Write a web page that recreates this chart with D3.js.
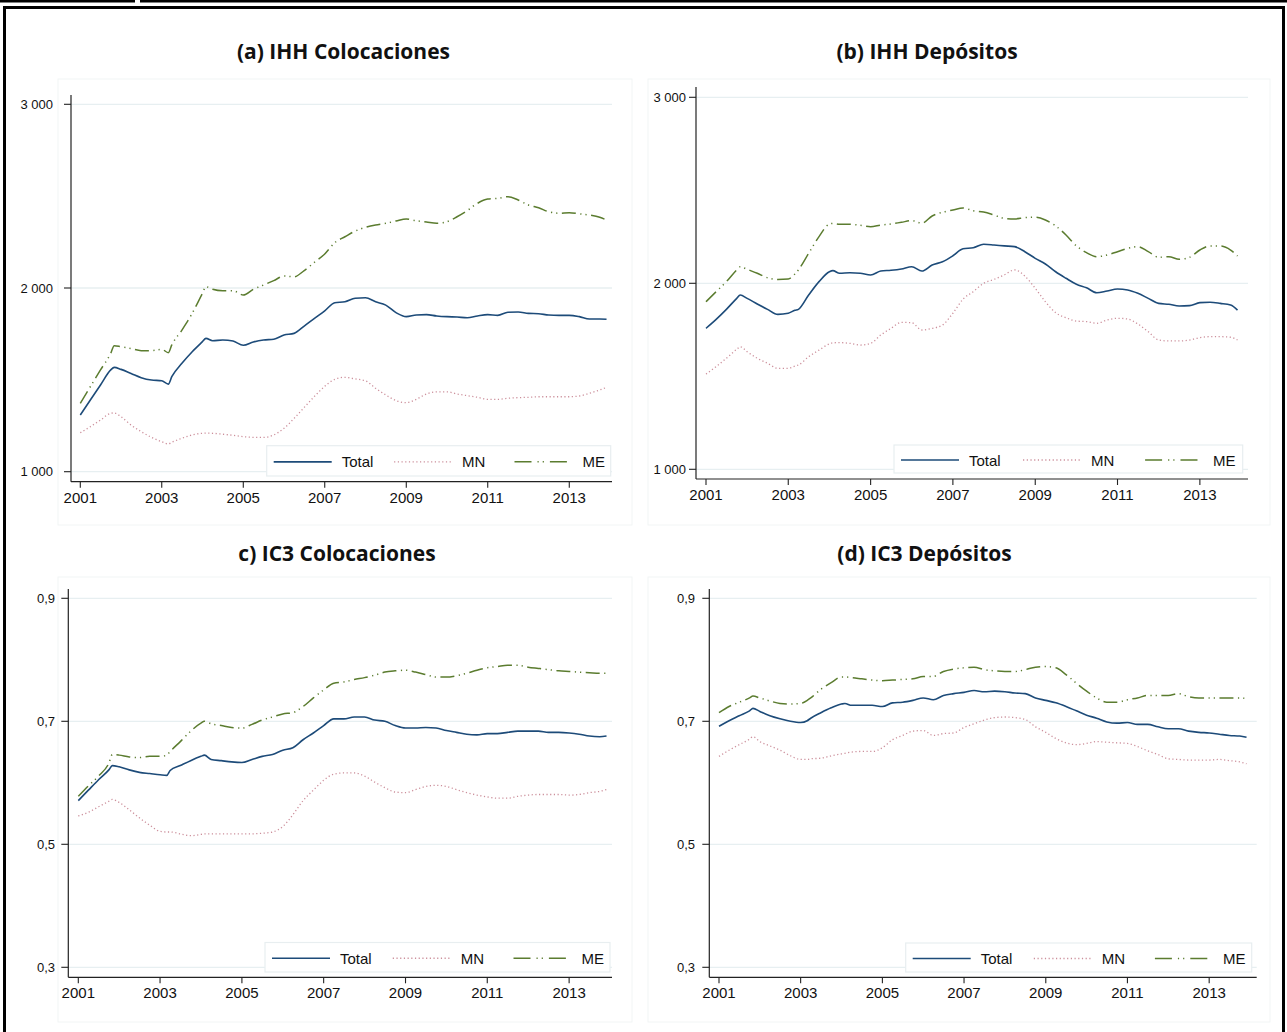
<!DOCTYPE html>
<html>
<head>
<meta charset="utf-8">
<script src="https://cdn.jsdelivr.net/npm/d3@7"></script>
<style>
  body { margin: 0; background: #fff; }
</style>
</head>
<body>
<div id="chart"></div>
<script>
// observation dates (month of year), shared by every series
const months = [
  "2001-01","2001-04","2001-07","2001-10","2001-11",
  "2002-01","2002-04","2002-07","2002-10",
  "2003-01","2003-03","2003-04","2003-07","2003-10",
  "2004-01","2004-02","2004-04","2004-07","2004-10",
  "2005-01","2005-04","2005-07","2005-10",
  "2006-01","2006-04","2006-07","2006-10",
  "2007-01","2007-04","2007-07","2007-10",
  "2008-01","2008-04","2008-07","2008-10",
  "2009-01","2009-04","2009-07","2009-10",
  "2010-01","2010-04","2010-07","2010-10",
  "2011-01","2011-04","2011-07","2011-10",
  "2012-01","2012-04","2012-07","2012-10",
  "2013-01","2013-04","2013-07","2013-10","2013-12"
];

// (a) IHH Colocaciones
const ihhColTotal = [1309,1390,1472,1554,1568, 1557,1535,1512,1499, 1495,1477,1517,1590,1653,
  1708,1726,1713,1717,1711, 1688,1706,1717,1721, 1744,1753,1793,1835, 1876,1920,1925,1944,
  1947,1925,1907,1866, 1844,1853,1855,1848, 1844,1842,1838,1848, 1855,1851,1868,1869,
  1862,1860,1853,1851, 1851,1844,1831,1831,1830];
const ihhColMN = [1212,1245,1281,1318,1320, 1299,1254,1218,1187, 1163,1151,1160,1182,1200,
  1209,1210,1209,1204,1198, 1191,1187,1187,1200, 1236,1290,1350,1410, 1465,1503,1514,1505,
  1495,1454,1418,1387, 1376,1394,1423,1435, 1435,1423,1414,1405, 1394,1394,1400,1403,
  1405,1408,1408,1408, 1408,1412,1427,1445,1459];
const ihhColME = [1372,1463,1554,1645,1686, 1680,1670,1659,1659, 1666,1648,1690,1771,1862,
  1971,2007,1993,1985,1985, 1962,1993,2016,2040, 2065,2061,2095,2140, 2185,2247,2279,2310,
  2330,2343,2352,2365, 2376,2366,2359,2352, 2361,2388,2421,2461, 2484,2488,2497,2479,
  2452,2437,2415,2407, 2410,2404,2397,2385,2370];

// (b) IHH Depósitos
const ihhDepTotal = [1758,1806,1860,1919,1937, 1919,1889,1860,1833, 1839,1855,1860,1937,2009,
  2062,2068,2054,2057,2054, 2045,2066,2070,2077, 2089,2066,2098,2116, 2148,2186,2191,2210,
  2206,2201,2197,2170, 2134,2104,2062,2027, 1995,1976,1949,1959, 1969,1964,1946,1919,
  1892,1887,1878,1880, 1896,1898,1892,1883,1856];
const ihhDepMN = [1512,1552,1597,1645,1659, 1632,1597,1570,1543, 1543,1555,1561,1605,1641,
  1674,1680,1681,1677,1668, 1677,1722,1758,1790, 1788,1749,1758,1776, 1839,1915,1955,2000,
  2021,2045,2072,2039, 1973,1901,1842,1815, 1797,1794,1785,1803, 1812,1808,1781,1740,
  1695,1690,1690,1695, 1708,1713,1713,1710,1695];
const ihhDepME = [1901,1955,2009,2072,2089, 2075,2054,2030,2021, 2023,2050,2072,2161,2251,
  2319,2322,2317,2317,2312, 2304,2313,2319,2328, 2337,2323,2362,2382, 2394,2405,2390,2383,
  2367,2349,2346,2353, 2355,2340,2308,2260, 2201,2165,2143,2152, 2170,2188,2197,2170,
  2140,2143,2129,2140, 2179,2201,2201,2179,2147];

// c) IC3 Colocaciones
const ic3ColTotal = [.571,.588,.605,.621,.628, .626,.621,.617,.615, .613,.612,.620,.628,.636,
  .643,.645,.638,.636,.634, .633,.638,.643,.646, .653,.657,.670,.681, .693,.704,.704,.707,
  .707,.702,.700,.693, .689,.689,.690,.689, .685,.682,.679,.678, .680,.680,.682,.684,
  .684,.684,.682,.682, .681,.679,.676,.675,.676];
const ic3ColMN = [.546,.552,.561,.570,.573, .568,.556,.543,.531, .521,.520,.520,.517,.514,
  .516,.517,.517,.517,.517, .517,.517,.518,.520, .529,.548,.571,.588, .604,.614,.616,.616,
  .611,.601,.592,.585, .584,.589,.594,.596, .594,.589,.584,.580, .577,.575,.575,.578,
  .580,.581,.581,.581, .580,.581,.584,.586,.589];
const ic3ColME = [.578,.595,.611,.632,.646, .645,.642,.641,.643, .643,.645,.651,.667,.684,
  .697,.700,.696,.693,.690, .689,.695,.702,.707, .712,.714,.724,.738, .751,.762,.764,.768,
  .771,.775,.780,.782, .783,.780,.776,.772, .772,.774,.778,.783, .787,.789,.791,.791,
  .788,.786,.784,.782, .781,.780,.779,.778,.778];

// (d) IC3 Depósitos
const ic3DepTotal = [.692,.701,.709,.717,.721, .716,.709,.704,.700, .698,.701,.705,.714,.722,
  .728,.729,.726,.726,.726, .724,.730,.731,.734, .738,.735,.742,.745, .747,.750,.748,.749,
  .748,.746,.745,.738, .734,.730,.724,.717, .710,.705,.699,.697, .698,.695,.695,.691,
  .688,.688,.684,.682, .681,.679,.677,.676,.674];
const ic3DepMN = [.643,.653,.662,.671,.675, .667,.660,.653,.644, .638,.638,.639,.640,.644,
  .647,.648,.650,.651,.651, .657,.670,.677,.684, .685,.677,.680,.681, .690,.696,.702,.706,
  .707,.706,.703,.691, .682,.672,.665,.662, .664,.667,.666,.665, .664,.659,.652,.646,
  .639,.638,.637,.637, .637,.638,.636,.634,.631];
const ic3DepME = [.714,.724,.731,.738,.741, .738,.733,.729,.728, .729,.734,.738,.752,.763,
  .772,.772,.771,.769,.767, .766,.767,.768,.769, .773,.773,.781,.785, .787,.788,.784,.782,
  .781,.781,.784,.788, .789,.787,.776,.762, .749,.738,.731,.731, .735,.738,.742,.742,
  .742,.745,.740,.738, .738,.738,.738,.738,.737];

const xTickYears = [2001, 2003, 2005, 2007, 2009, 2011, 2013];
const ihhTicks = [1000, 2000, 3000];
const ic3Ticks = [0.3, 0.5, 0.7, 0.9];
const seriesNames = ["Total", "MN", "ME"];

const width = 1287, height = 1032;
const svg = d3.select("#chart").append("svg")
  .attr("width", width)
  .attr("height", height);

const loc = d3.formatLocale({decimal: ",", thousands: " ", grouping: [3], currency: ["", ""]});
const parseMonth = d3.timeParse("%Y-%m");
const dates = months.map(parseMonth);

const styles = {
  Total: {color: "#1d4b79", dash: null, w: 1.6},
  MN:    {color: "#cc8f9b", dash: "1.2 2.5", w: 1.3},
  ME:    {color: "#5b7c2f", dash: "14 4.5 1.2 4 1.2 4.5", w: 1.5}
};

const panels = [
  {title: "(a) IHH Colocaciones", tx: 343.5, ty: 59,
   series: [ihhColTotal, ihhColMN, ihhColME], ticks: ihhTicks, fmt: loc.format(",.0f"), dom: [1000, 3000],
   ax: 71, x0: 80.3, x1: 610, axY: 481.7, axTop: 95, axRight: 612, yLo: 471.7, yHi: 104.3, labX: 53,
   bg: [58, 79, 632, 525], leg: [266.7, 445.7, 344, 30.3]},
  {title: "(b) IHH Depósitos", tx: 927, ty: 59,
   series: [ihhDepTotal, ihhDepMN, ihhDepME], ticks: ihhTicks, fmt: loc.format(",.0f"), dom: [1000, 3000],
   ax: 696, x0: 706, x1: 1241, axY: 479, axTop: 87, axRight: 1248, yLo: 469.3, yHi: 97.3, labX: 686,
   bg: [648, 79, 1270, 525], leg: [894, 445, 348.7, 28]},
  {title: "c) IC3 Colocaciones", tx: 337, ty: 561,
   series: [ic3ColTotal, ic3ColMN, ic3ColME], ticks: ic3Ticks, fmt: loc.format(".1f"), dom: [0.3, 0.9],
   ax: 68.3, x0: 78.3, x1: 610, axY: 977.3, axTop: 589, axRight: 612, yLo: 967.3, yHi: 598.3, labX: 55,
   bg: [58, 577, 632, 1022], leg: [265, 942.5, 345, 29.5]},
  {title: "(d) IC3 Depósitos", tx: 924.5, ty: 561,
   series: [ic3DepTotal, ic3DepMN, ic3DepME], ticks: ic3Ticks, fmt: loc.format(".1f"), dom: [0.3, 0.9],
   ax: 709.3, x0: 719, x1: 1250, axY: 977.3, axTop: 589, axRight: 1256.7, yLo: 967.3, yHi: 598.3, labX: 695,
   bg: [648, 577, 1270, 1022], leg: [905.7, 943, 346, 29]}
];

// outer frame
svg.append("line").attr("x1", 0).attr("x2", width).attr("y1", 1.2).attr("y2", 1.2)
  .attr("stroke", "#000").attr("stroke-width", 2.5);
svg.append("rect").attr("x", 135).attr("y", 0).attr("width", 5).attr("height", 4).attr("fill", "#fff");
svg.append("rect").attr("x", 4.5).attr("y", 7.5).attr("width", 1279).attr("height", 1040)
  .attr("fill", "none").attr("stroke", "#000").attr("stroke-width", 3);

panels.forEach(p => {
  const g = svg.append("g");

  g.append("rect")
    .attr("x", p.bg[0]).attr("y", p.bg[1])
    .attr("width", p.bg[2] - p.bg[0]).attr("height", p.bg[3] - p.bg[1])
    .attr("fill", "none").attr("stroke", "#f2f5f5").attr("stroke-width", 1);

  const x = d3.scaleTime()
    .domain([new Date(2001, 0, 1), new Date(2014, 0, 1)])
    .range([p.x0, p.x1]);
  const y = d3.scaleLinear().domain(p.dom).range([p.yLo, p.yHi]);

  // gridlines
  g.selectAll(".grid").data(p.ticks).join("line")
    .attr("x1", p.ax).attr("x2", p.axRight)
    .attr("y1", d => y(d)).attr("y2", d => y(d))
    .attr("stroke", "#e7eff1").attr("stroke-width", 1.3);

  // y axis
  g.append("line").attr("x1", p.ax).attr("x2", p.ax).attr("y1", p.axTop).attr("y2", p.axY)
    .attr("stroke", "#222").attr("stroke-width", 1.2);
  g.selectAll(".ytick").data(p.ticks).join("line")
    .attr("x1", p.ax - 7).attr("x2", p.ax)
    .attr("y1", d => y(d)).attr("y2", d => y(d))
    .attr("stroke", "#222").attr("stroke-width", 1.1);
  g.selectAll(".ylab").data(p.ticks).join("text")
    .attr("x", p.labX).attr("y", d => y(d)).attr("dy", "0.35em")
    .attr("text-anchor", "end")
    .style("font-family", "'Liberation Sans', Arial, sans-serif").style("font-size", "13px")
    .attr("fill", "#111")
    .text(d => p.fmt(d));

  // x axis
  g.append("line").attr("x1", p.ax).attr("x2", p.axRight).attr("y1", p.axY).attr("y2", p.axY)
    .attr("stroke", "#222").attr("stroke-width", 1.2);
  g.selectAll(".xtick").data(xTickYears).join("line")
    .attr("x1", d => x(new Date(d, 0, 1))).attr("x2", d => x(new Date(d, 0, 1)))
    .attr("y1", p.axY).attr("y2", p.axY + 6)
    .attr("stroke", "#222").attr("stroke-width", 1.1);
  g.selectAll(".xlab").data(xTickYears).join("text")
    .attr("x", d => x(new Date(d, 0, 1))).attr("y", p.axY + 21)
    .attr("text-anchor", "middle")
    .style("font-family", "'Liberation Sans', Arial, sans-serif").style("font-size", "15px")
    .attr("fill", "#111")
    .text(d => d);

  // title
  g.append("text").attr("x", p.tx).attr("y", p.ty).attr("text-anchor", "middle")
    .style("font-family", "'Open Sans', sans-serif").style("font-weight", 700).style("font-size", "21px")
    .attr("fill", "#111")
    .text(p.title);

  // lines
  const line = d3.line()
    .x((d, i) => x(dates[i]))
    .y(d => y(d))
    .curve(d3.curveMonotoneX);

  seriesNames.forEach((name, k) => {
    const s = styles[name];
    g.append("path")
      .datum(p.series[k])
      .attr("d", line)
      .attr("fill", "none")
      .attr("stroke", s.color)
      .attr("stroke-width", s.w)
      .attr("stroke-dasharray", s.dash);
  });

  // legend
  const [lx, ly, lw, lh] = p.leg;
  g.append("rect").attr("x", lx).attr("y", ly).attr("width", lw).attr("height", lh)
    .attr("fill", "#fff").attr("stroke", "#e8eef0").attr("stroke-width", 1.2);
  const cy = ly + lh / 2 + 1;
  seriesNames.forEach((name, k) => {
    const s = styles[name];
    const sx = lx + 7 + k * lw * 0.35;
    g.append("line").attr("x1", sx).attr("x2", sx + 58).attr("y1", cy).attr("y2", cy)
      .attr("stroke", s.color).attr("stroke-width", s.w).attr("stroke-dasharray", name === "ME" ? "17 6 1.2 4 1.2 6" : s.dash);
    g.append("text").attr("x", sx + 68).attr("y", cy + 5.5)
      .style("font-family", "'Liberation Sans', Arial, sans-serif").style("font-size", "15px")
      .attr("fill", "#111")
      .text(name);
  });
});
</script>
</body>
</html>
